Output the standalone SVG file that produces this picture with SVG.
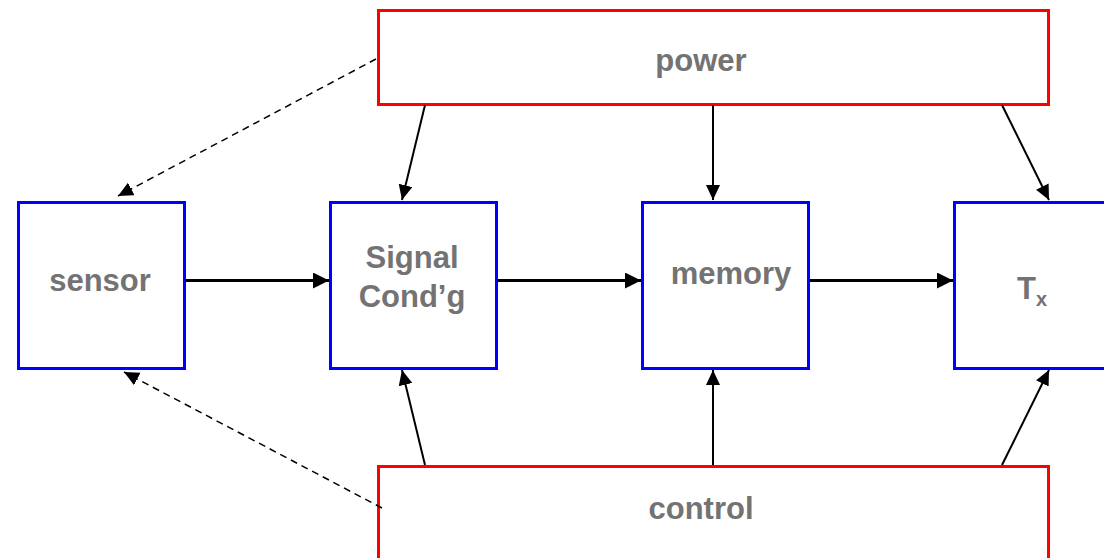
<svg xmlns="http://www.w3.org/2000/svg" width="1104" height="558" viewBox="0 0 1104 558">
<style>
.blk{fill:#fff;stroke:#0000ff;stroke-width:3}
.bus{fill:#fff;stroke:#ff0000;stroke-width:3}
.lbl{font-family:"Liberation Sans",Arial,sans-serif;font-weight:bold;font-size:31px;fill:#737373;text-anchor:middle}
.thick{stroke:#000;stroke-width:3;fill:none;marker-end:url(#ah)}
.thin{stroke:#000;stroke-width:2;fill:none;marker-end:url(#as)}
.dash{stroke:#000;stroke-width:1.5;fill:none;stroke-dasharray:7 5;marker-end:url(#as)}
</style>
<defs>
<marker id="ah" markerUnits="userSpaceOnUse" markerWidth="18" markerHeight="16" refX="16" refY="8" orient="auto">
<path d="M0,0 L16,8 L0,16 Z" fill="#000"/>
</marker>
<marker id="as" markerUnits="userSpaceOnUse" markerWidth="16" markerHeight="15" refX="15" refY="7" orient="auto">
<path d="M0,0 L15,7 L0,14 Z" fill="#000"/>
</marker>
</defs>
<g id="power"><rect class="bus" x="378.5" y="10.5" width="670" height="94"/><text class="lbl" x="701" y="71">power</text></g>
<g id="control"><rect class="bus" x="378.5" y="466.5" width="670" height="96"/><text class="lbl" x="701" y="519">control</text></g>
<g id="sensor"><rect class="blk" x="18.5" y="202.5" width="166" height="166"/><text class="lbl" x="100" y="291">sensor</text></g>
<g id="signal"><rect class="blk" x="330.5" y="202.5" width="166" height="166"/><text class="lbl" x="412" y="268">Signal</text><text class="lbl" x="412" y="307">Cond’g</text></g>
<g id="memory"><rect class="blk" x="642.5" y="202.5" width="166" height="166"/><text class="lbl" x="731" y="284">memory</text></g>
<g id="tx"><rect class="blk" x="954.5" y="202.5" width="166" height="166"/><text class="lbl" x="1034" y="299" style="text-anchor:start"><tspan x="1017">T</tspan><tspan font-size="20" dy="7">x</tspan></text></g>
<g id="connectors">
<line class="thick" x1="185" y1="280.5" x2="329" y2="280.5"/>
<line class="thick" x1="497" y1="280.5" x2="641" y2="280.5"/>
<line class="thick" x1="810" y1="280.5" x2="953" y2="280.5"/>
<line class="thin" x1="425" y1="105" x2="402" y2="200"/>
<line class="thin" x1="713" y1="105" x2="713" y2="200"/>
<line class="thin" x1="1002" y1="105" x2="1049" y2="200"/>
<line class="thin" x1="425" y1="465" x2="402" y2="370"/>
<line class="thin" x1="713" y1="465" x2="713" y2="370"/>
<line class="thin" x1="1002" y1="465" x2="1049" y2="370"/>
<line class="dash" x1="376" y1="59" x2="118" y2="196"/>
<line class="dash" x1="382" y1="508" x2="124" y2="372"/>
</g>
</svg>
